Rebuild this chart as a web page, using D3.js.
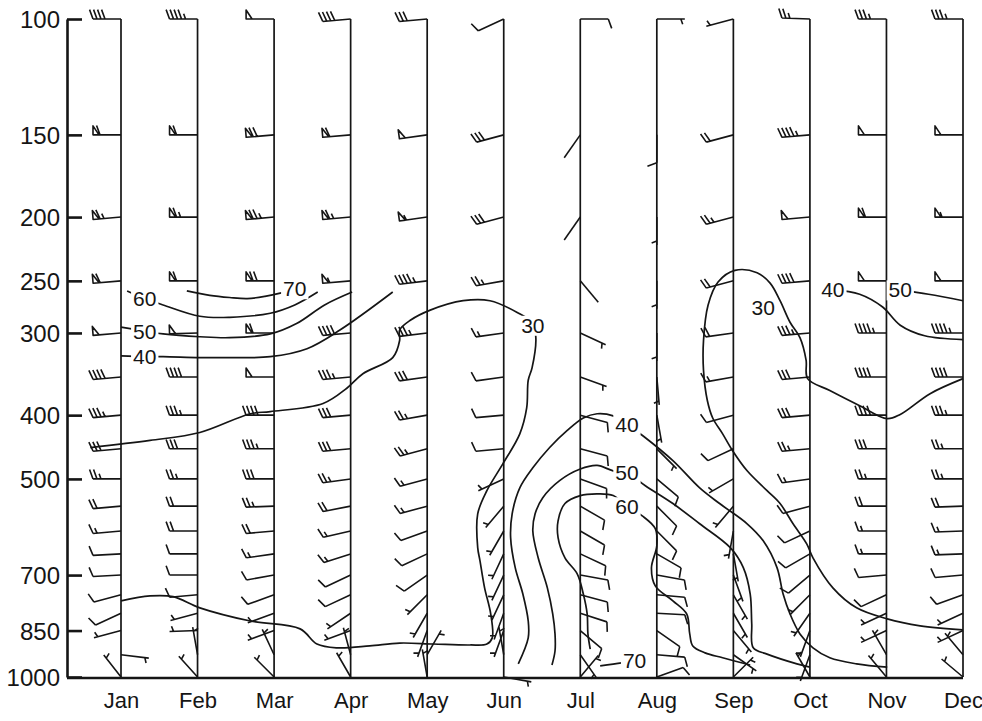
<!DOCTYPE html>
<html><head><meta charset="utf-8">
<script src="https://cdn.jsdelivr.net/npm/d3@7"></script>
<style>
body{margin:0;background:#fff}
svg{display:block}
text{font-family:"Liberation Sans",Arial,Helvetica,sans-serif;fill:#151515}
</style>
</head><body>
<svg id="chart" width="982" height="721"></svg>
<script>
// ---------------- data ----------------
const months = ["Jan","Feb","Mar","Apr","May","Jun","Jul","Aug","Sep","Oct","Nov","Dec"];
const levels = [100,150,200,250,300,350,400,450,500,550,600,650,700,750,800,850,925,1000];
const pressureTicks = [100,150,200,250,300,400,500,700,850,1000];

// wind direction (deg, from) and speed (kt) per month, ordered as levels
const dirJan = [270,270,265,265,265,265,265,265,270,265,265,267,267,255,245,255,97,322];
const spdJan = [40,60,65,60,50,40,35,30,25,20,15,10,10,10,10,3,3,5];
const dirFeb = [270,270,270,270,268,270,270,270,270,270,270,270,270,265,255,268,350,318];
const spdFeb = [45,60,65,60,50,40,35,30,25,20,20,10,10,10,5,5,5,5];
const dirMar = [270,265,265,270,270,270,270,270,270,268,265,262,260,250,250,250,335,315];
const spdMar = [50,70,75,70,60,50,40,35,30,25,20,15,10,10,5,5,5,5];
const dirApr = [265,265,265,265,265,265,265,265,262,259,257,252,245,245,236,250,345,330];
const spdApr = [40,60,65,55,40,35,30,30,25,20,15,15,10,10,5,5,5,3];
const dirMay = [265,262,262,263,263,262,260,255,255,255,250,245,235,225,210,200,30,350];
const spdMay = [30,50,55,45,35,30,25,25,15,15,10,10,10,5,5,5,3,5];
const dirJun = [245,255,255,260,262,262,265,265,245,220,210,205,205,205,200,200,350,100];
const spdJun = [10,30,30,25,15,10,10,10,5,5,5,5,5,5,5,5,5,3];
const dirJul = [90,215,215,140,115,110,105,105,110,120,120,115,100,105,108,130,145,40];
const spdJul = [10,2,2,2,5,5,10,10,10,10,10,10,10,10,10,10,5,3];
const dirAug = [90,180,180,180,180,175,170,135,130,135,135,120,100,95,93,125,95,70];
const spdAug = [5,10,5,5,5,5,5,5,10,10,10,10,10,10,10,10,10,10];
const dirSep = [255,255,255,255,262,260,255,245,240,220,190,170,160,150,150,140,125,45];
const spdSep = [5,20,25,20,20,15,10,10,5,5,5,5,5,5,5,5,3,3];
const dirOct = [272,265,265,265,265,265,265,265,262,255,245,240,230,225,215,200,200,330];
const spdOct = [25,45,50,40,35,30,30,25,15,10,10,10,10,5,5,5,5,5];
const dirNov = [270,270,270,270,270,270,270,270,270,270,270,270,265,245,245,245,330,320];
const spdNov = [35,50,60,50,45,40,40,30,25,20,15,15,10,10,5,5,3,5];
const dirDec = [270,270,270,270,270,270,270,270,270,268,268,268,265,250,245,245,320,310];
const spdDec = [35,50,55,50,45,40,35,25,25,20,15,15,10,10,5,5,5,5];

// contours: [month index (fractional), pressure hPa]
const c30West = [[0,766],[0.38,753],[0.68,755],[1.03,785],[1.69,822],[2.34,845],[2.56,891],[2.82,903],[3.25,897],[3.64,888],[4.08,891],[4.56,894],[4.78,891],[4.85,872],[4.83,802],[4.75,732],[4.69,666],[4.66,636],[4.66,565],[4.78,521],[4.99,474],[5.21,427],[5.30,390],[5.32,354],[5.37,339],[5.42,306],[5.38,290],[5.17,279],[4.82,268],[4.47,268],[4.04,277],[3.78,287],[3.64,297],[3.64,308],[3.55,327],[3.16,346],[2.95,364],[2.64,384],[1.95,395],[1.69,398],[1.03,425],[0.38,437],[-0.40,448]];
const c70West = [[0.86,259],[1.16,263],[1.42,265],[1.65,266],[1.88,264],[2.08,261],[2.27,257]];
const c60West = [[0.08,259],[0.31,266],[0.55,272],[1.03,283],[1.42,284],[1.95,280],[2.27,272],[2.57,260]];
const c50West = [[0,294],[0.31,298],[0.55,301],[1.03,304],[1.42,305],[1.95,301],[2.30,290],[2.66,272],[3.02,260]];
const c40West = [[0,325],[0.31,326],[0.55,326],[1.03,327],[1.42,327],[1.95,326],[2.43,317],[2.86,297],[3.55,260]];
const c40Summer = [[5.19,955],[5.32,872],[5.32,822],[5.25,748],[5.15,682],[5.09,614],[5.11,565],[5.21,516],[5.38,481],[5.60,448],[5.83,422],[6.04,404],[6.22,398],[6.43,401],[6.61,413],[6.83,431],[7.21,469],[7.56,516],[7.82,545],[8.18,585],[8.39,621],[8.57,682],[8.65,748],[8.74,802],[8.87,860],[9.04,903],[9.26,935],[9.61,955],[10.01,966]];
const c50Summer = [[5.63,959],[5.67,913],[5.67,860],[5.64,802],[5.57,732],[5.45,659],[5.38,600],[5.41,565],[5.51,534],[5.73,503],[6.00,483],[6.22,477],[6.43,486],[6.61,489],[6.85,512],[7.21,545],[7.56,585],[7.96,636],[8.13,682],[8.22,748],[8.24,830],[8.26,903],[8.44,923],[8.83,955],[9.00,966]];
const c60Summer = [[6.13,907],[6.10,860],[6.09,802],[6.04,748],[5.96,697],[5.80,659],[5.71,614],[5.71,579],[5.80,545],[6.00,530],[6.22,527],[6.43,530],[6.61,551],[6.81,569],[6.98,595],[7.00,632],[6.93,682],[6.98,727],[7.21,766],[7.39,802],[7.43,860],[7.47,897],[7.63,919],[7.86,935],[8.22,959]];
const c70Summer = [[6.26,962],[6.54,952],[6.71,945]];
const c30East = [[11,848],[10.44,836],[10.01,816],[9.61,785],[9.30,732],[9.04,659],[8.96,628],[8.78,585],[8.61,545],[8.44,521],[8.18,486],[7.99,453],[7.86,427],[7.73,404],[7.66,380],[7.61,342],[7.61,308],[7.67,272],[7.80,251],[8.02,241],[8.31,243],[8.48,252],[8.61,268],[8.74,289],[8.87,305],[8.95,330],[8.97,352],[9.26,367],[9.65,387],[10.01,405],[10.18,399],[10.57,371],[11,352]];
const c40East = [[9.30,258],[9.65,262],[9.95,274],[10.18,292],[10.50,303],[11,307]];
const c50East = [[10.18,258],[10.55,262],[11,268]];

const contourLabels = [
  {t:"60", m:0.31, p:266}, {t:"50", m:0.31, p:298}, {t:"40", m:0.31, p:326},
  {t:"70", m:2.27, p:257}, {t:"30", m:5.38, p:292},
  {t:"40", m:6.61, p:413}, {t:"50", m:6.61, p:489}, {t:"60", m:6.61, p:551},
  {t:"70", m:6.71, p:945}, {t:"30", m:8.39, p:274},
  {t:"40", m:9.30, p:258}, {t:"50", m:10.18, p:258}
];

// ---------------- drawing ----------------
const svg = d3.select("#chart");
svg.append("rect").attr("width",982).attr("height",721).attr("fill","#fff");

const x = d3.scalePoint().domain(months).range([121,963]);
const xm = d3.scaleLinear().domain([0,11]).range([121,963]);
const y = d3.scaleLog().domain([100,1000]).range([19,677]);
const ink = "#151515";

const windDir = [dirJan,dirFeb,dirMar,dirApr,dirMay,dirJun,dirJul,dirAug,dirSep,dirOct,dirNov,dirDec];
const windSpd = [spdJan,spdFeb,spdMar,spdApr,spdMay,spdJun,spdJul,spdAug,spdSep,spdOct,spdNov,spdDec];

// month reference lines
const gLines = svg.append("g");
months.forEach(m => {
  gLines.append("line").attr("x1",x(m)).attr("x2",x(m))
    .attr("y1",y(100)).attr("y2",y(1000))
    .attr("stroke",ink).attr("stroke-width",1.7);
});

// wind barbs
function barbPath(x0,y0,dir,spd){
  const L=28, B=10, S=4, slant=0.35;
  const r = dir*Math.PI/180;
  const ux = Math.sin(r), uy = -Math.cos(r);
  const px = -uy, py = ux;
  const bx = px*Math.cos(slant)+ux*Math.sin(slant);
  const by = py*Math.cos(slant)+uy*Math.sin(slant);
  const tx = x0+ux*L, ty = y0+uy*L;
  const p = d3.path();
  p.moveTo(x0,y0); p.lineTo(tx,ty);
  let s = Math.round(spd/5)*5;
  let pos = 0;
  const tri = [];
  while (s>=50){
    const ax = tx-ux*pos, ay = ty-uy*pos;
    const cx = tx-ux*(pos+6), cy = ty-uy*(pos+6);
    tri.push([[ax,ay],[ax+px*9,ay+py*9],[cx,cy]]);
    pos += 7; s -= 50;
  }
  while (s>=10){
    const ax = tx-ux*pos, ay = ty-uy*pos;
    p.moveTo(ax,ay); p.lineTo(ax+bx*B, ay+by*B);
    pos += S; s -= 10;
  }
  if (s>=5){
    if (pos===0) pos = S;
    const ax = tx-ux*pos, ay = ty-uy*pos;
    p.moveTo(ax,ay); p.lineTo(ax+bx*B*0.55, ay+by*B*0.55);
  }
  tri.forEach(t=>{ p.moveTo(t[0][0],t[0][1]); p.lineTo(t[1][0],t[1][1]); p.lineTo(t[2][0],t[2][1]); p.closePath(); });
  return p.toString();
}
const gBarbs = svg.append("g");
months.forEach((m,i)=>{
  levels.forEach((lv,j)=>{
    gBarbs.append("path").attr("d", barbPath(x(m), y(lv), windDir[i][j], windSpd[i][j]))
      .attr("fill","none").attr("stroke",ink).attr("stroke-width",1.6)
      .attr("stroke-linejoin","round");
  });
});

// contours
const line = d3.line().x(d=>xm(d[0])).y(d=>y(d[1])).curve(d3.curveCatmullRom.alpha(0.5));
const gCont = svg.append("g");
[c30West,c70West,c60West,c50West,c40West,c40Summer,c50Summer,c60Summer,c70Summer,c30East,c40East,c50East]
  .forEach(c => gCont.append("path").attr("d",line(c)).attr("fill","none")
    .attr("stroke",ink).attr("stroke-width",1.7));

// contour labels with knock-out
const gLab = svg.append("g");
contourLabels.forEach(l=>{
  const t = gLab.append("text").attr("x",xm(l.m)).attr("y",y(l.p)).attr("dy","0.36em")
    .attr("text-anchor","middle").attr("font-size",21).text(l.t);
  const bb = t.node().getBBox();
  gLab.insert("rect","text").attr("x",bb.x-2).attr("y",bb.y+2).attr("width",bb.width+4).attr("height",bb.height-3).attr("fill","#fff");
});
gLab.selectAll("text").raise();

// left pressure axis
const yAxis = d3.axisLeft(y).tickValues(pressureTicks).tickFormat(d3.format("d"))
  .tickSize(-15).tickSizeOuter(0).tickPadding(7);
const ga = svg.append("g").attr("transform","translate(67,0)").call(yAxis);
ga.select(".domain").attr("stroke",ink).attr("stroke-width",2.6);
ga.selectAll(".tick line").attr("stroke",ink).attr("stroke-width",2.6);
ga.selectAll(".tick text").attr("font-size",24).attr("dy","0.36em")
  .attr("font-family","'Liberation Sans',Arial,sans-serif").attr("fill",ink);

// bottom month axis
svg.append("line").attr("x1",67).attr("x2",x("Dec")).attr("y1",y(1000)+1).attr("y2",y(1000)+1)
  .attr("stroke",ink).attr("stroke-width",2.6);
const xAxis = d3.axisBottom(x).tickSize(0).tickPadding(15);
const gx = svg.append("g").attr("transform",`translate(0,${y(1000)})`).call(xAxis);
gx.select(".domain").remove();
gx.selectAll(".tick text").attr("font-size",22)
  .attr("font-family","'Liberation Sans',Arial,sans-serif").attr("fill",ink);
</script>
</body></html>
